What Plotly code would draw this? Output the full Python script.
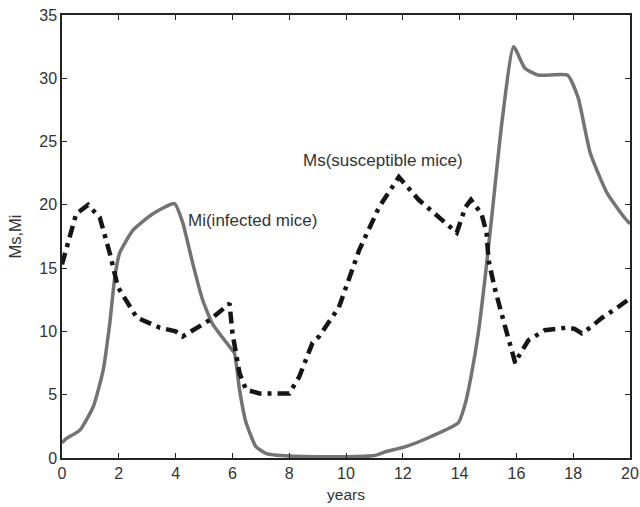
import plotly.graph_objects as go

mi_years = [0, 0.16, 0.63, 1.1, 1.45, 1.68, 1.86, 2.03, 2.5, 3.2, 3.96, 4.25, 4.6, 4.95, 5.3, 5.9, 6.07, 6.25, 6.48, 6.83, 7.2, 8, 9, 10, 11, 11.4, 12.1, 13.0, 13.96, 14.2, 14.4, 14.66, 14.9, 15.12, 15.5, 15.9, 16.3, 16.77, 17.8, 18.17, 18.6, 19.2, 19.8, 20.0]
mi_values = [1.2, 1.55, 2.2, 4.05, 6.95, 10.6, 14.3, 16.2, 18.0, 19.3, 20.1, 18.6, 15.4, 12.5, 10.6, 8.8, 8.3, 5.4, 2.8, 0.9, 0.35, 0.15, 0.1, 0.1, 0.2, 0.5, 0.9, 1.7, 2.8, 4.3, 6.4, 9.9, 14.3, 18.8, 26.7, 32.5, 30.8, 30.25, 30.25, 28.5, 24.1, 20.9, 19.0, 18.5]

ms_years = [0, 0.5, 0.92, 1.33, 1.68, 1.8, 1.97, 2.63, 3.44, 4.0, 4.25, 5.2, 5.9, 6.0, 6.25, 6.48, 6.95, 8.0, 8.35, 8.82, 9.05, 9.75, 10.46, 11.16, 11.86, 12.56, 13.26, 13.9, 14.2, 14.4, 14.77, 14.95, 15.02, 15.25, 15.6, 15.96, 16.07, 16.42, 17.0, 17.8, 18.05, 18.3, 18.6, 19.0, 19.5, 20.0]
ms_values = [15.3, 19.3, 20.0, 19.0, 16.2, 15.1, 13.5, 11.1, 10.3, 10.0, 9.6, 10.9, 12.2, 9.9, 6.7, 5.4, 5.1, 5.1, 6.4, 9.1, 9.6, 11.9, 16.4, 19.8, 22.2, 20.4, 19.0, 17.8, 19.8, 20.4, 19.3, 17.8, 15.6, 13.3, 10.4, 7.5, 8.0, 9.3, 10.1, 10.3, 10.2, 9.85, 10.3, 11.05, 11.8, 12.6]

x_ticks = [0, 2, 4, 6, 8, 10, 12, 14, 16, 18, 20]
y_ticks = [0, 5, 10, 15, 20, 25, 30, 35]

fig = go.Figure()
fig.add_trace(go.Scatter(x=mi_years, y=mi_values, mode="lines",
                         line=dict(color="#737373", width=3.5, shape="spline", smoothing=0.5),
                         name="Mi", showlegend=False))
fig.add_trace(go.Scatter(x=ms_years, y=ms_values, mode="lines",
                         line=dict(color="#151515", width=4.5, dash="12px,6px,4px,6px"),
                         name="Ms", showlegend=False))

fig.add_annotation(x=4.38, y=18.8, text="Mi(infected mice)", showarrow=False,
                   xanchor="left", yanchor="middle", font=dict(size=17, color="#333"))
fig.add_annotation(x=8.43, y=23.5, text="Ms(susceptible mice)", showarrow=False,
                   xanchor="left", yanchor="middle", font=dict(size=17, color="#333"))

axis_common = dict(showgrid=False, zeroline=False, showline=True, linecolor="#222",
                   linewidth=1.5, mirror="ticks", ticks="inside", ticklen=5,
                   tickcolor="#222", tickfont=dict(size=16, color="#333"),
                   automargin=False)
fig.update_xaxes(range=[0, 20], tickvals=x_ticks, ticktext=[str(t) for t in x_ticks],
                 title=dict(text="years", font=dict(size=15.5, color="#333"), standoff=8),
                 **axis_common)
fig.update_yaxes(range=[0, 35], tickvals=y_ticks, ticktext=[str(t) for t in y_ticks],
                 title=dict(text="Ms,Mi", font=dict(size=16.5, color="#333"), standoff=13),
                 **axis_common)
fig.update_layout(width=640, height=507, margin=dict(l=62, r=10, t=15, b=49),
                  plot_bgcolor="white", paper_bgcolor="white",
                  font=dict(family="Liberation Sans, Arial, sans-serif"))
fig.write_html("out.html")
